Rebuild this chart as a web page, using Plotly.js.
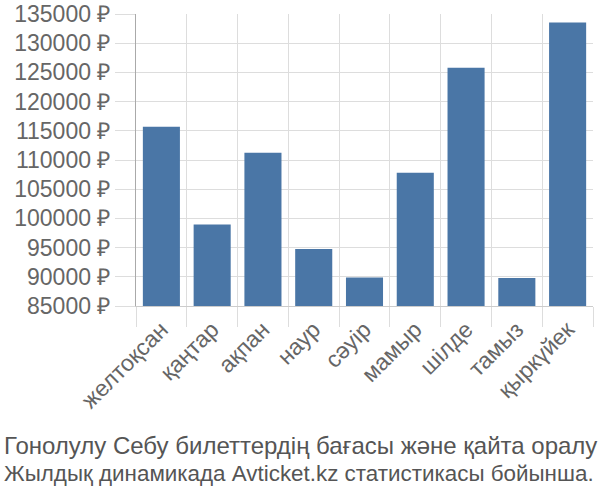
<!DOCTYPE html>
<html>
<head>
<meta charset="utf-8">
<script src="https://cdn.plot.ly/plotly-3.0.1.min.js"></script>
<style>html,body{margin:0;padding:0;background:#fff;}#chart{width:600px;height:500px;}</style>
</head>
<body>
<div id="chart"></div>
<script>
const months = ["желтоқсан", "қаңтар", "ақпан", "наур", "сәуір", "мамыр", "шілде", "тамыз", "қыркүйек"];
const prices = [115700, 98950, 111250, 94750, 89870, 107800, 125800, 89780, 133550];
const titleLines = ["Гонолулу Себу билеттердің бағасы және қайта оралу", "Жылдық динамикада Avticket.kz статистикасы бойынша."];

const font = "Liberation Sans, Arial, sans-serif";
Plotly.newPlot("chart", [{
  type: "bar",
  x: months,
  y: prices,
  marker: {color: "#4a76a6"},
  hoverinfo: "none"
}], {
  width: 600, height: 500,
  margin: {l: 136, r: 7, t: 14, b: 194},
  paper_bgcolor: "#fff", plot_bgcolor: "#fff",
  bargap: 0.27,
  showlegend: false,
  xaxis: {
    tickson: "boundaries",
    showgrid: true, gridcolor: "#dddddd", gridwidth: 1,
    ticks: "outside", ticklen: 20, tickcolor: "#dddddd",
    tickangle: -45,
    tickfont: {family: font, size: 23, color: "#666666"},
    showline: true, linecolor: "#cccccc", linewidth: 1,
    fixedrange: true
  },
  yaxis: {
    range: [85000, 135000],
    tick0: 85000, dtick: 5000,
    tickformat: "d",
    ticksuffix: " ₽",
    showgrid: true, gridcolor: "#dddddd", gridwidth: 1,
    ticks: "outside", ticklen: 20, tickcolor: "#dddddd",
    tickfont: {family: font, size: 23, color: "#666666"},
    showline: true, linecolor: "#aaaaaa", linewidth: 1,
    zeroline: false,
    fixedrange: true
  },
  annotations: titleLines.map((t, i) => ({
    text: t, xref: "paper", yref: "paper", x: -134/457, xanchor: "left",
    y: -(430 - 306 + i * 29) / 292, yanchor: "top", showarrow: false,
    font: {family: font, size: i === 0 ? 24 : 22.4, color: "#555555"}
  }))
}, {displayModeBar: false, staticPlot: true});
</script>
</body>
</html>
